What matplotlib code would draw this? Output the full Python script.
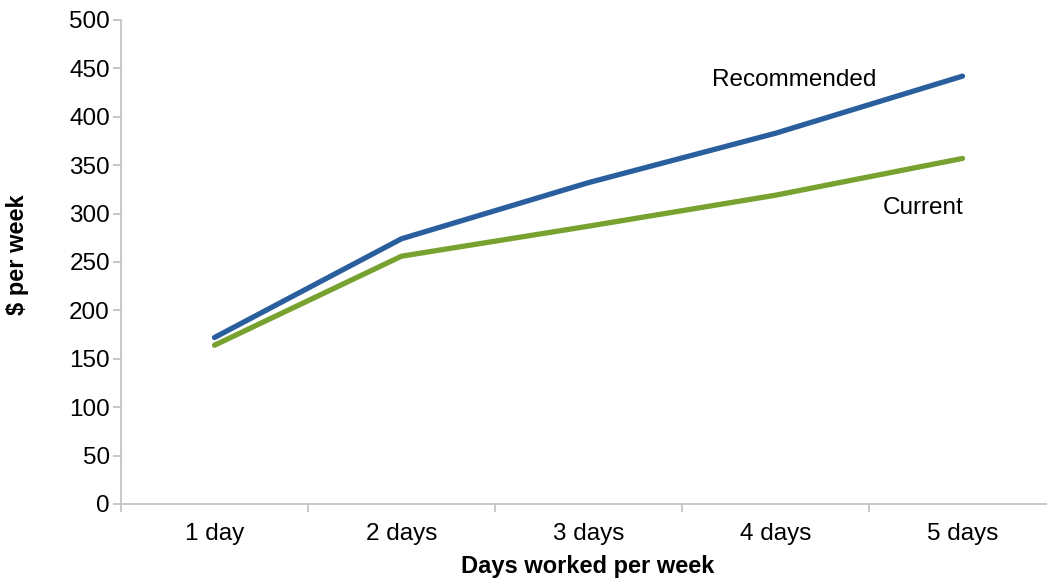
import matplotlib
matplotlib.use("Agg")
import matplotlib.pyplot as plt
from matplotlib.ticker import FixedLocator

categories = ["1 day", "2 days", "3 days", "4 days", "5 days"]
recommended = [172, 274, 332, 383, 442]
current = [164, 256, 287, 319, 357]
y_ticks = [0, 50, 100, 150, 200, 250, 300, 350, 400, 450, 500]

plt.rcParams['font.family'] = ['Liberation Sans', 'DejaVu Sans']

fig = plt.figure(figsize=(10.47, 5.81), dpi=100)
ax = fig.add_axes([121/1047, 77/581, 935/1047, 484/581])

x = list(range(1, len(categories) + 1))
ax.plot(x, recommended, color='#2a5f9e', lw=3.8, solid_capstyle='round', solid_joinstyle='round')
ax.plot(x, current, color='#77a22f', lw=3.8, solid_capstyle='round', solid_joinstyle='round')

FS = 17.5
ax.set_xlim(0.5, len(categories) + 0.5)
ax.set_ylim(0, 500)
ax.set_yticks(y_ticks)
ax.set_xticks(x)
ax.set_xticklabels(categories)
ax.xaxis.set_minor_locator(FixedLocator([i + 0.5 for i in range(len(categories) + 1)]))
ax.tick_params(axis='x', which='major', length=0, pad=14, labelsize=FS)
ax.tick_params(axis='x', which='minor', length=6, color='#bfbfbf', width=1.2)
ax.tick_params(axis='y', length=6, color='#bfbfbf', width=1.2, pad=2, labelsize=FS)

for s in ['top', 'right']:
    ax.spines[s].set_visible(False)
for s in ['left', 'bottom']:
    ax.spines[s].set_color('#bfbfbf')
    ax.spines[s].set_linewidth(1.2)

ax.set_ylabel('$ per week', fontsize=17, fontweight='bold')
ax.set_xlabel('Days worked per week', fontsize=17, fontweight='bold')
ax.yaxis.set_label_coords((18 - 121) / 935, (504 - 255) / 484)
ax.xaxis.set_label_coords((588 - 121) / 935, -(567 - 504) / 484)
ax.yaxis.label.set_va('center')
ax.xaxis.label.set_va('center')

ax.text(4.1, 438, 'Recommended', fontsize=FS, ha='center', va='center')
ax.text(4.79, 306, 'Current', fontsize=FS, ha='center', va='center')

fig.savefig('out.png', dpi=100)
